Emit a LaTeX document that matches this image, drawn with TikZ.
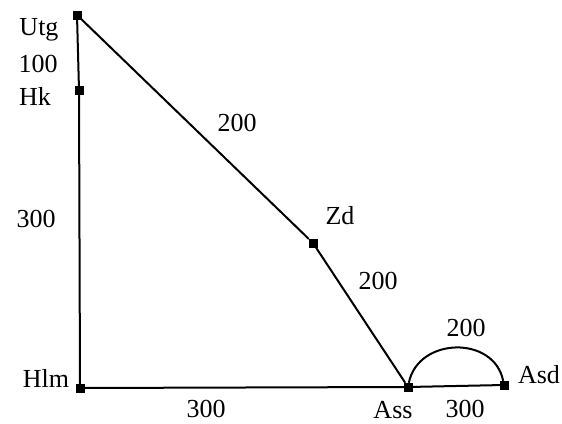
\documentclass[tikz,border=0pt]{standalone}
\usepackage{fontspec}
\setmainfont{Liberation Serif}
\usepackage{tikz}
\usetikzlibrary{positioning}

\begin{document}
\begin{tikzpicture}[
  x=1pt, y=-1pt,
  font=\fontsize{26}{30}\selectfont,
  vtx/.style={draw, fill=black, minimum size=8pt, inner sep=0pt},
  lbl/.style={inner sep=0pt},
  edge/.style={line width=2pt}
]
\useasboundingbox (0,0) rectangle (562,423);
% stations
\node[vtx] (Utg) at (77,15)  {};
\node[vtx] (Hk)  at (79,90)  {};
\node[vtx] (Hlm) at (80,388) {};
\node[vtx] (Zd)  at (313,243) {};
\node[vtx] (Ass) at (408,387) {};
\node[vtx] (Asd) at (504,385) {};
% links
\draw[edge] (Utg) -- (Hk) -- (Hlm) -- (Ass) -- (Asd);
\draw[edge] (Utg) -- (Zd) -- (Ass);
\draw[edge] (Ass) .. controls +(10,-50) and +(-10,-50) .. (Asd);
% names
\node[lbl] (nUtg) at (39,30)   {Utg};
\node[lbl] (nHk)  at (35,96)   {Hk};
\node[lbl] (nHlm) at (46,378)  {Hlm};
\node[lbl] (nZd)  at (340,216) {Zd};
\node[lbl] (nAss) at (393,410) {Ass};
\node[lbl] (nAsd) at (539,375) {Asd};
% distances
\node[lbl] (d1) at (38,64)   {100};
\node[lbl] (d2) at (36,219)  {300};
\node[lbl] (d3) at (237,123) {200};
\node[lbl] (d4) at (378,281) {200};
\node[lbl] (d5) at (466,328) {200};
\node[lbl] (d6) at (206,409) {300};
\node[lbl] (d7) at (465,409) {300};
\end{tikzpicture}
\end{document}
